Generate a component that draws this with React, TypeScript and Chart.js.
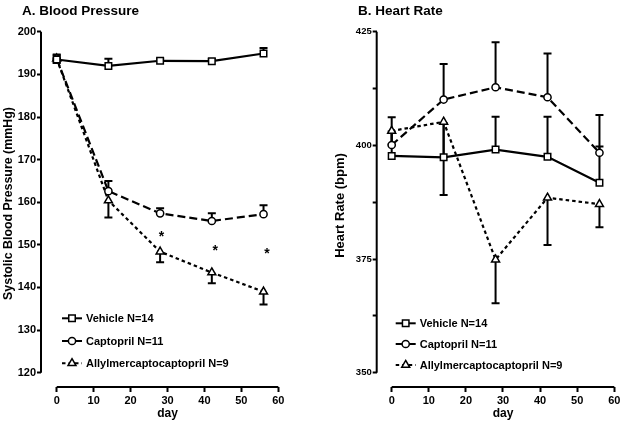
import React, { useEffect, useRef } from 'react';
import { Chart, registerables } from 'chart.js';

Chart.register(...registerables);

const FONT = '"Liberation Sans", Arial, Helvetica, sans-serif';

// ---- shared data ----
const days = [0, 14, 28, 42, 56];
const xTicks = [0, 10, 20, 30, 40, 50, 60];
const seriesLabels = ['Vehicle N=14', 'Captopril N=11', 'Allylmercaptocaptopril N=9'];

// ---- Panel A: blood pressure ----
const bpTicks = [120, 130, 140, 150, 160, 170, 180, 190, 200];
const bpVehicle = [193.5, 192.0, 193.2, 193.1, 194.9];
const bpVehicleErr = [1.0, 1.7, 0.5, 0.5, 1.3];
const bpCaptopril = [193.7, 162.6, 157.4, 155.6, 157.2];
const bpCaptoprilErr = [1.0, 2.4, 1.2, 1.8, 2.1];
const bpAllyl = [193.7, 160.4, 148.4, 143.5, 139.0];
const bpAllylErr = [1.0, 4.0, 2.5, 2.5, 3.0];
const bpStarDays = [28.4, 42.9, 56.9];
const bpStarValues = [152.8, 149.4, 148.8];

// ---- Panel B: heart rate ----
const hrTicks = [350, 362.5, 375, 387.5, 400, 412.5, 425];
const hrVehicle = [397.7, 397.4, 399.1, 397.5, 391.8];
const hrVehicleErr = [8.5, 7.5, 7.2, 8.8, 8.0];
const hrCaptopril = [400.1, 410.1, 412.8, 410.6, 398.4];
const hrCaptoprilErr = [3.0, 7.8, 9.9, 9.6, 8.3];
const hrAllyl = [403.2, 405.2, 374.9, 388.5, 387.1];
const hrAllylErr = [3.0, 16.1, 9.6, 10.4, 5.1];

type Series = {
  label: string;
  values: number[];
  err: number[];
  dir: number;
  point: 'rect' | 'circle' | 'triangle';
  radius: number;
  dash: number[];
};

type Panel = {
  title: string;
  titleX: number;
  yTitle: string;
  yTitleX: number;
  yTitleAt: number;
  yTitleSize: number;
  yMin: number;
  yMax: number;
  yTicks: number[];
  yLabelStep: number;
  yAxisWidth: number;
  yTickFont: any;
  xMin: number;
  padRight: number;
  series: Series[];
  starDays: number[];
  starValues: number[];
  legendDx: number;
  legendRows: number[];
};

const styles = [
  { point: 'rect' as const, radius: 4.6, dash: [] as number[] },
  { point: 'circle' as const, radius: 3.6, dash: [8, 4] },
  { point: 'triangle' as const, radius: 4.6, dash: [3.5, 3] },
];

const bpPanel: Panel = {
  title: 'A. Blood Pressure',
  titleX: 22,
  yTitle: 'Systolic Blood Pressure (mmHg)',
  yTitleX: 9,
  yTitleAt: 159.7,
  yTitleSize: 12.4,
  yMin: 116.64,
  yMax: 200,
  yTicks: bpTicks,
  yLabelStep: 10,
  yAxisWidth: 41,
  yTickFont: { family: FONT, size: 11, weight: 'bold' },
  xMin: -4.25,
  padRight: 33.7,
  series: [
    { label: seriesLabels[0], values: bpVehicle, err: bpVehicleErr, dir: 1, ...styles[0] },
    { label: seriesLabels[1], values: bpCaptopril, err: bpCaptoprilErr, dir: 1, ...styles[1] },
    { label: seriesLabels[2], values: bpAllyl, err: bpAllylErr, dir: -1, ...styles[2] },
  ],
  starDays: bpStarDays,
  starValues: bpStarValues,
  legendDx: 21,
  legendRows: [318.3, 341, 363.3],
};

const hrPanel: Panel = {
  title: 'B. Heart Rate',
  titleX: 46,
  yTitle: 'Heart Rate (bpm)',
  yTitleX: 28,
  yTitleAt: 386.8,
  yTitleSize: 13,
  yMin: 346.88,
  yMax: 425,
  yTicks: hrTicks,
  yLabelStep: 25,
  yAxisWidth: 64.7,
  yTickFont: { family: FONT, size: 9.5, weight: 'bold' },
  xMin: -4.04,
  padRight: 10.7,
  series: [
    { label: seriesLabels[0], values: hrVehicle, err: hrVehicleErr, dir: 1, ...styles[0] },
    { label: seriesLabels[1], values: hrCaptopril, err: hrCaptoprilErr, dir: 1, ...styles[1] },
    { label: seriesLabels[2], values: hrAllyl, err: hrAllylErr, dir: -1, ...styles[2] },
  ],
  starDays: [],
  starValues: [],
  legendDx: 19,
  legendRows: [323.3, 344, 365],
};

function drawMarker(ctx: CanvasRenderingContext2D, kind: string, x: number, y: number, r: number) {
  ctx.save();
  ctx.setLineDash([]);
  ctx.lineWidth = 1.5;
  ctx.strokeStyle = '#000';
  ctx.fillStyle = '#fff';
  ctx.beginPath();
  if (kind === 'rect') {
    const s = r * Math.SQRT1_2;
    ctx.rect(x - s, y - s, 2 * s, 2 * s);
  } else if (kind === 'circle') {
    ctx.arc(x, y, r, 0, Math.PI * 2);
  } else {
    ctx.moveTo(x, y - r);
    ctx.lineTo(x + r * 0.866, y + r * 0.5);
    ctx.lineTo(x - r * 0.866, y + r * 0.5);
    ctx.closePath();
  }
  ctx.fill();
  ctx.stroke();
  ctx.restore();
}

function makeConfig(p: Panel): any {
  const datasets = p.series.map((s) => ({
    label: s.label,
    data: s.values.map((v, i) => ({ x: days[i], y: v })),
    showLine: true,
    borderColor: '#000',
    borderWidth: 2.2,
    borderDash: s.dash,
    pointStyle: s.point,
    pointRadius: s.radius,
    pointBorderWidth: 1.5,
    pointBackgroundColor: '#fff',
    pointBorderColor: '#000',
    tension: 0,
    fill: false,
  }));

  const decor = {
    id: 'decor',
    beforeDatasetsDraw(chart: any) {
      const ctx: CanvasRenderingContext2D = chart.ctx;
      const xs = chart.scales.x;
      const ys = chart.scales.y;
      ctx.save();
      ctx.strokeStyle = '#000';
      ctx.lineWidth = 2;
      ctx.setLineDash([]);
      p.series.forEach((s) => {
        s.values.forEach((v, i) => {
          const x = xs.getPixelForValue(days[i]);
          const y0 = ys.getPixelForValue(v);
          const y1 = ys.getPixelForValue(v + s.dir * s.err[i]);
          ctx.beginPath();
          ctx.moveTo(x, y0);
          ctx.lineTo(x, y1);
          ctx.moveTo(x - 4, y1);
          ctx.lineTo(x + 4, y1);
          ctx.stroke();
        });
      });
      ctx.restore();
    },
    afterDatasetsDraw(chart: any) {
      const ctx: CanvasRenderingContext2D = chart.ctx;
      const xs = chart.scales.x;
      const ys = chart.scales.y;
      ctx.save();
      ctx.fillStyle = '#000';
      ctx.font = `bold 14px ${FONT}`;
      ctx.textAlign = 'center';
      ctx.textBaseline = 'alphabetic';
      p.starDays.forEach((d, i) => {
        ctx.fillText('*', xs.getPixelForValue(d), ys.getPixelForValue(p.starValues[i]) + 8);
      });
      ctx.restore();
    },
    afterDraw(chart: any) {
      const ctx: CanvasRenderingContext2D = chart.ctx;
      const xs = chart.scales.x;
      const ys = chart.scales.y;
      const area = chart.chartArea;
      ctx.save();
      ctx.strokeStyle = '#000';
      ctx.fillStyle = '#000';
      ctx.lineWidth = 2;
      ctx.setLineDash([]);
      // axis lines (offset Prism-style)
      ctx.beginPath();
      ctx.moveTo(area.left, ys.getPixelForValue(p.yTicks[0]));
      ctx.lineTo(area.left, ys.getPixelForValue(p.yTicks[p.yTicks.length - 1]));
      ctx.moveTo(xs.getPixelForValue(xTicks[0]), area.bottom);
      ctx.lineTo(xs.getPixelForValue(xTicks[xTicks.length - 1]), area.bottom);
      ctx.stroke();

      // panel title
      ctx.font = `bold 13.5px ${FONT}`;
      ctx.textAlign = 'left';
      ctx.textBaseline = 'middle';
      ctx.fillText(p.title, p.titleX, 11);

      // x title
      ctx.font = `bold 12px ${FONT}`;
      ctx.textAlign = 'center';
      ctx.fillText('day', xs.getPixelForValue(30), 414);

      // y title
      ctx.save();
      ctx.translate(p.yTitleX, ys.getPixelForValue(p.yTitleAt));
      ctx.rotate(-Math.PI / 2);
      ctx.font = `bold ${p.yTitleSize}px ${FONT}`;
      ctx.textAlign = 'center';
      ctx.textBaseline = 'middle';
      ctx.fillText(p.yTitle, 0, 0);
      ctx.restore();

      // legend
      const lx = area.left + p.legendDx;
      p.series.forEach((s, i) => {
        const y = p.legendRows[i];
        ctx.save();
        ctx.lineWidth = 2;
        ctx.setLineDash(s.dash);
        ctx.beginPath();
        ctx.moveTo(lx, y);
        ctx.lineTo(lx + 20, y);
        ctx.stroke();
        ctx.restore();
        drawMarker(ctx, s.point, lx + 10, y, s.radius);
        ctx.font = `bold 11px ${FONT}`;
        ctx.textAlign = 'left';
        ctx.textBaseline = 'middle';
        ctx.fillText(s.label, lx + 24, y + 0.5);
      });
      ctx.restore();
    },
  };

  return {
    type: 'scatter',
    data: { datasets },
    plugins: [decor],
    options: {
      animation: false,
      responsive: true,
      maintainAspectRatio: false,
      events: [],
      layout: { padding: { top: 31.8, right: p.padRight, bottom: 0, left: 0 } },
      plugins: {
        legend: { display: false },
        tooltip: { enabled: false },
        title: { display: false },
      },
      scales: {
        x: {
          type: 'linear',
          min: p.xMin,
          max: 60,
          afterBuildTicks: (s: any) => {
            s.ticks = xTicks.map((v) => ({ value: v }));
          },
          afterFit: (s: any) => {
            s.height = 39;
          },
          grid: {
            display: true,
            drawOnChartArea: false,
            drawTicks: true,
            tickLength: 5,
            tickWidth: 2,
            tickColor: '#000',
          },
          border: { display: false },
          ticks: {
            color: '#000',
            font: { family: FONT, size: 11, weight: 'bold' },
            padding: 2,
            maxRotation: 0,
            autoSkip: false,
            callback: (v: any) => String(v),
          },
        },
        y: {
          type: 'linear',
          min: p.yMin,
          max: p.yMax,
          afterBuildTicks: (s: any) => {
            s.ticks = p.yTicks.map((v) => ({ value: v }));
          },
          afterFit: (s: any) => {
            s.width = p.yAxisWidth;
          },
          grid: {
            display: true,
            drawOnChartArea: false,
            drawTicks: true,
            tickLength: 4,
            tickWidth: 2,
            tickColor: '#000',
          },
          border: { display: false },
          ticks: {
            color: '#000',
            font: p.yTickFont,
            padding: 1,
            autoSkip: false,
            callback: (v: any) => (Math.abs(v % p.yLabelStep) < 1e-6 ? String(v) : ''),
          },
        },
      },
    },
  };
}

export default function App() {
  const leftRef = useRef<HTMLCanvasElement>(null);
  const rightRef = useRef<HTMLCanvasElement>(null);

  useEffect(() => {
    const c1 = new Chart(leftRef.current as HTMLCanvasElement, makeConfig(bpPanel));
    const c2 = new Chart(rightRef.current as HTMLCanvasElement, makeConfig(hrPanel));
    return () => {
      c1.destroy();
      c2.destroy();
    };
  }, []);

  return (
    <div style={{ position: 'fixed', left: 0, top: 0, width: 625, height: 426, background: '#fff' }}>
      <div style={{ position: 'absolute', left: 0, top: 0, width: 312, height: 426 }}>
        <canvas ref={leftRef} />
      </div>
      <div style={{ position: 'absolute', left: 312, top: 0, width: 313, height: 426 }}>
        <canvas ref={rightRef} />
      </div>
    </div>
  );
}
